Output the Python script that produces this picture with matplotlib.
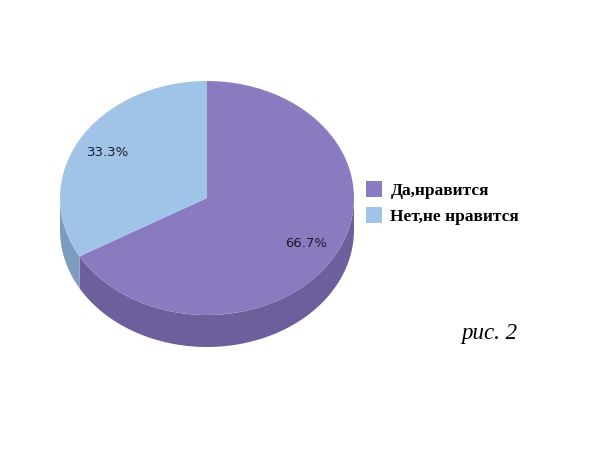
import numpy as np
import matplotlib.pyplot as plt
from matplotlib.patches import Polygon, Patch

# chart data
labels = ['Да,нравится', 'Нет,не нравится']
values = [66.7, 33.3]
top_colors = ['#8a7bc0', '#9fc4e8']
side_colors = ['#6e5f9c', '#7d9bbd']
caption = 'рис. 2'

# pie placed as an ellipse: centre (207,198) px, semi-axes 147 x 117 px, depth 32 px
cx, cy, rx, ry, depth_px = 207, 198, 147, 117, 32
W, H = 600, 451
depth = depth_px / ry

fig = plt.figure(figsize=(6, 4.51), dpi=100)
ax = fig.add_axes([0, 0, 1, 1])

wedges, texts, autotexts = ax.pie(values, colors=top_colors, startangle=90,
                                  counterclock=False, autopct='%.1f%%',
                                  pctdistance=0.78,
                                  textprops=dict(fontsize=9.5, color='#1c1c2c',
                                                 family='DejaVu Sans'))

# side walls of the 3D pie (front half only)
for w, col in zip(wedges, side_colors):
    t1, t2 = w.theta1, w.theta2
    for shift in (-360, 0, 360):
        a = max(t1 + shift, 180)
        b = min(t2 + shift, 360)
        if a >= b:
            continue
        th = np.radians(np.linspace(a, b, 80))
        top = np.column_stack([np.cos(th), np.sin(th)])
        bot = np.column_stack([np.cos(th[::-1]), np.sin(th[::-1]) - depth])
        ax.add_patch(Polygon(np.vstack([top, bot]), closed=True,
                             facecolor=col, edgecolor='none', zorder=0))

ax.set_aspect('auto')
ax.set_xlim(-cx / rx, (W - cx) / rx)
ax.set_ylim((cy - H) / ry, cy / ry)
ax.axis('off')

handles = [Patch(facecolor=c, edgecolor='none') for c in top_colors]
fig.legend(handles, labels, loc='upper left', bbox_to_anchor=(366 / W, 1 - 181 / H),
           frameon=False, borderpad=0, borderaxespad=0, handlelength=0.95,
           handleheight=1.0, handletextpad=0.45, labelspacing=0.5,
           prop=dict(family='Liberation Serif', weight='bold', size=12.5))

fig.text(517 / W, 1 - 333 / H, caption, ha='right', va='center',
         family='Liberation Serif', style='italic', fontsize=16.5)

fig.savefig('out.png', dpi=100)
